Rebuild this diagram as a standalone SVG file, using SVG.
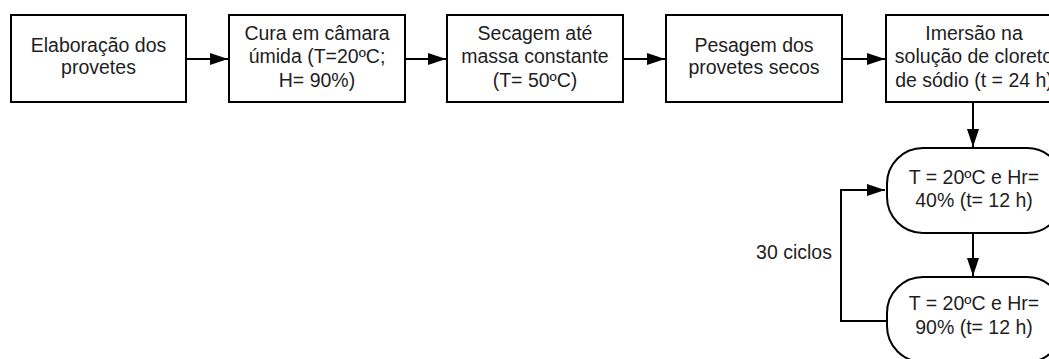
<svg xmlns="http://www.w3.org/2000/svg" width="1049" height="359" viewBox="0 0 1049 359">
  <style>
    .box { fill: #ffffff; stroke: #000000; stroke-width: 2; }
    .lbl { font-family: "Liberation Sans", Arial, sans-serif; font-size: 19.5px; fill: #1e1e1e; text-anchor: middle; }
    .edge { fill: none; stroke: #000000; stroke-width: 2; }
  </style>
  <defs>
    <marker id="arrow" viewBox="0 0 18 12" refX="18" refY="6" markerWidth="18" markerHeight="12" markerUnits="userSpaceOnUse" orient="auto">
      <path d="M0,0 L18,6 L0,12 Z" fill="#000000"/>
    </marker>
  </defs>
  <rect width="1049" height="359" fill="#ffffff"/>

  <!-- process steps -->
  <g id="elaboracao">
    <rect class="box" x="11" y="15" width="175" height="87"/>
    <text class="lbl" x="98.5" y="52">Elaboração dos</text>
    <text class="lbl" x="98.5" y="74">provetes</text>
  </g>
  <g id="cura">
    <rect class="box" x="229" y="15" width="176" height="87"/>
    <text class="lbl" x="317" y="39.5">Cura em câmara</text>
    <text class="lbl" x="317" y="63">úmida (T=20ºC;</text>
    <text class="lbl" x="317" y="86.5">H= 90%)</text>
  </g>
  <g id="secagem">
    <rect class="box" x="447" y="15" width="176" height="87"/>
    <text class="lbl" x="535" y="39.5">Secagem até</text>
    <text class="lbl" x="535" y="63">massa constante</text>
    <text class="lbl" x="535" y="86.5">(T= 50ºC)</text>
  </g>
  <g id="pesagem">
    <rect class="box" x="666" y="15" width="176" height="87"/>
    <text class="lbl" x="754" y="52">Pesagem dos</text>
    <text class="lbl" x="754" y="74">provetes secos</text>
  </g>
  <g id="imersao">
    <rect class="box" x="886" y="15" width="176" height="87"/>
    <text class="lbl" x="974" y="39.5">Imersão na</text>
    <text class="lbl" x="974" y="63">solução de cloreto</text>
    <text class="lbl" x="974" y="86.5">de sódio (t = 24 h)</text>
  </g>

  <!-- humidity cycle -->
  <g id="ciclo-seco">
    <rect class="box" x="887" y="148" width="176" height="85" rx="36" ry="36"/>
    <text class="lbl" x="974" y="183.5">T = 20ºC e Hr=</text>
    <text class="lbl" x="974" y="207">40% (t= 12 h)</text>
  </g>
  <g id="ciclo-humido">
    <rect class="box" x="887" y="277" width="176" height="85" rx="36" ry="36"/>
    <text class="lbl" x="974" y="309.5">T = 20ºC e Hr=</text>
    <text class="lbl" x="974" y="334">90% (t= 12 h)</text>
  </g>

  <!-- connectors -->
  <g id="connectors">
    <path class="edge" d="M186,59 H228" marker-end="url(#arrow)"/>
    <path class="edge" d="M405,59 H446" marker-end="url(#arrow)"/>
    <path class="edge" d="M623,59 H665" marker-end="url(#arrow)"/>
    <path class="edge" d="M842,59 H885" marker-end="url(#arrow)"/>
    <path class="edge" d="M973,102 V147" marker-end="url(#arrow)"/>
    <path class="edge" d="M973,233 V276" marker-end="url(#arrow)"/>
    <path class="edge" d="M887,321 H841 V190 H885" marker-end="url(#arrow)"/>
    <text class="lbl" x="794" y="259">30 ciclos</text>
  </g>
</svg>
